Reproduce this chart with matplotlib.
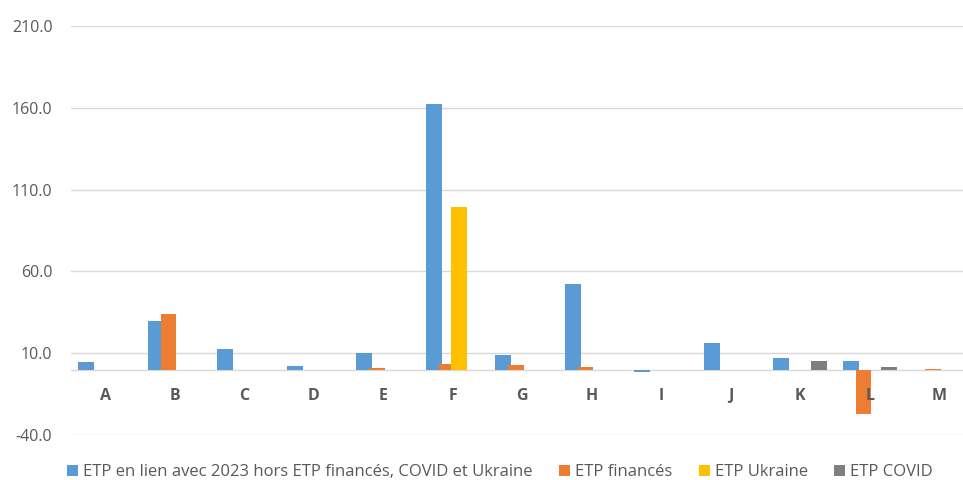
import matplotlib.pyplot as plt
import numpy as np

plt.rcParams['font.family'] = ['Open Sans', 'DejaVu Sans']

categories = ["A", "B", "C", "D", "E", "F", "G", "H", "I", "J", "K", "L", "M"]
etp_2023 = [4.7, 29.4, 12.3, 2.2, 10.4, 162.6, 8.6, 52.1, -1.6, 16.0, 7.2, 5.5, 0.0]
etp_finances = [0.0, 33.7, 0.0, 0.0, 0.8, 3.1, 2.5, 1.4, 0.0, 0.0, 0.0, -27.2, 0.6]
etp_ukraine = [0.0, 0.0, 0.0, 0.0, 0.0, 99.4, 0.0, 0.0, 0.0, 0.0, 0.0, 0.0, 0.0]
etp_covid = [0.0, 0.0, 0.0, 0.0, 0.0, 0.0, 0.0, 0.0, 0.0, 0.0, 5.1, 1.6, 0.0]

series = [
    ("ETP en lien avec 2023 hors ETP financés, COVID et Ukraine", etp_2023, "#5B9BD5"),
    ("ETP financés", etp_finances, "#ED7D31"),
    ("ETP Ukraine", etp_ukraine, "#FFC000"),
    ("ETP COVID", etp_covid, "#7F7F7F"),
]

fig = plt.figure(figsize=(9.63, 4.8), dpi=100)
ax = fig.add_axes([70.5 / 963, 1 - 435 / 480, 903.5 / 963, 409 / 480])

x = np.arange(len(categories))
step = 0.18
width = 0.23
for i, (name, vals, col) in enumerate(series):
    ax.bar(x + (i - 1.5) * step, vals, width, color=col, label=name, zorder=3)

ax.set_xlim(-0.5, len(categories) - 0.5)
ax.set_ylim(-40, 210)
ax.set_yticks([-40, 10, 60, 110, 160, 210])
ax.set_yticklabels([f"{v:.1f}" for v in [-40, 10, 60, 110, 160, 210]],
                   fontsize=11.5, color="#595959")
ax.yaxis.grid(True, color="#D9D9D9", linewidth=1, zorder=0)
ax.axhline(0, color="#D9D9D9", linewidth=1, zorder=1)
for s in ax.spines.values():
    s.set_visible(False)
ax.tick_params(axis="both", length=0)
ax.tick_params(axis="y", pad=13)
ax.set_xticks([])
for xi, c in zip(x, categories):
    ax.annotate(c, (xi, 0), xytext=(0, -26), textcoords="offset pixels",
                ha="center", va="center", fontsize=11.5, fontweight="bold", color="#595959")

fig.legend(loc="center", bbox_to_anchor=(500 / 963, 1 - 472 / 480), ncol=4, frameon=False,
           fontsize=12, handlelength=0.65, handleheight=0.65, handletextpad=0.3,
           columnspacing=1.6, labelcolor="#595959")

fig.savefig("out.png", dpi=100)
